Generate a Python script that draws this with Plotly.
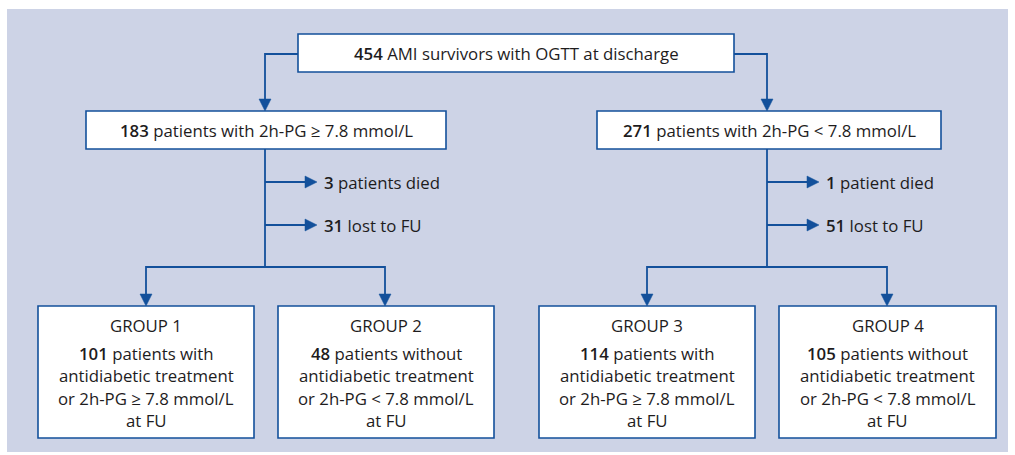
import plotly.graph_objects as go

# ---- data ----
total = 454
high_pg = 183
low_pg = 271
died = [3, 1]
lost = [31, 51]
group_titles = ["GROUP 1", "GROUP 2", "GROUP 3", "GROUP 4"]
group_counts = [101, 48, 114, 105]
group_kind = ["with", "without", "with", "without"]
group_cond = ["≥", "&lt;", "≥", "&lt;"]

BG = "#CDD3E6"
BLUE = "#13509B"
TXT = "#1E1C1D"
FONT = "Open Sans"
FS = 16.8

fig = go.Figure()
shapes = []
ann = []

def num(v):
    return f"<span style='font-weight:650'>{v}</span>"

def box(x0, y0, x1, y1):
    shapes.append(dict(type="rect", x0=x0, y0=y0, x1=x1, y1=y1,
                       line=dict(color=BLUE, width=1.6), fillcolor="white", layer="above"))

def line(pts):
    path = "M " + " L ".join(f"{x},{y}" for x, y in pts)
    shapes.append(dict(type="path", path=path, line=dict(color=BLUE, width=1.8), layer="above"))

def head_down(x, y):
    shapes.append(dict(type="path", path=f"M {x-6},{y-12} L {x+6},{y-12} L {x},{y} Z",
                       fillcolor=BLUE, line=dict(color=BLUE, width=0.5), layer="above"))

def head_right(x, y):
    shapes.append(dict(type="path", path=f"M {x-12},{y-6} L {x-12},{y+6} L {x},{y} Z",
                       fillcolor=BLUE, line=dict(color=BLUE, width=0.5), layer="above"))

def text(x, y, s, anchor="center"):
    ann.append(dict(x=x, y=y, text=s, showarrow=False, xanchor=anchor, yanchor="middle",
                    font=dict(family=FONT, size=FS, color=TXT, weight=450)))

# panel
shapes.append(dict(type="rect", x0=7, y0=9, x1=1008, y1=452, line=dict(width=0),
                   fillcolor=BG, layer="below"))

# top box
box(298, 34, 734, 72)
text(516, 53, f"{num(total)} AMI survivors with OGTT at discharge")

# connectors top -> second level
line([(298, 54), (265, 54), (265, 106)])
head_down(265, 111)
line([(734, 54), (767, 54), (767, 106)])
head_down(767, 111)

# second-level boxes
box(86, 111, 446, 149)
text(266, 130, f"{num(high_pg)} patients with 2h-PG ≥ 7.8 mmol/L")
box(597, 111, 941, 149)
text(769, 130, f"{num(low_pg)} patients with 2h-PG &lt; 7.8 mmol/L")

# side branches
for i, cx in enumerate([265, 767]):
    line([(cx, 149), (cx, 267)])
    line([(cx, 182), (cx + 48, 182)])
    head_right(cx + 52, 182)
    line([(cx, 225), (cx + 48, 225)])
    head_right(cx + 52, 225)
    word = "patients died" if died[i] != 1 else "patient died"
    text(cx + 57, 182, f"{num(died[i])} {word}", anchor="left")
    text(cx + 57, 225, f"{num(lost[i])} lost to FU", anchor="left")

# splits to groups
arrow_x = [146, 385, 647, 887]
for a, b in [(0, 1), (2, 3)]:
    line([(arrow_x[a], 301), (arrow_x[a], 267), (arrow_x[b], 267), (arrow_x[b], 301)])
for x in arrow_x:
    head_down(x, 306)

group_boxes = [(38, 254), (278, 494), (539, 755), (779, 996)]
for i, (x0, x1) in enumerate(group_boxes):
    box(x0, 306, x1, 438)
    cx = (x0 + x1) / 2
    text(cx, 325, group_titles[i])
    text(cx, 353, f"{num(group_counts[i])} patients {group_kind[i]}")
    text(cx, 375.5, "antidiabetic treatment")
    text(cx, 398, f"or 2h-PG {group_cond[i]} 7.8 mmol/L")
    text(cx, 420.5, "at FU")

fig.update_layout(
    width=1015, height=455,
    margin=dict(l=0, r=0, t=0, b=0),
    paper_bgcolor="white", plot_bgcolor="white",
    xaxis=dict(range=[0, 1015], visible=False, fixedrange=True),
    yaxis=dict(range=[455, 0], visible=False, fixedrange=True),
    shapes=shapes, annotations=ann, showlegend=False,
)
fig.write_html("out.html", config={"displayModeBar": False},
               post_script="document.body.style.margin='0';document.body.style.overflow='hidden';")
